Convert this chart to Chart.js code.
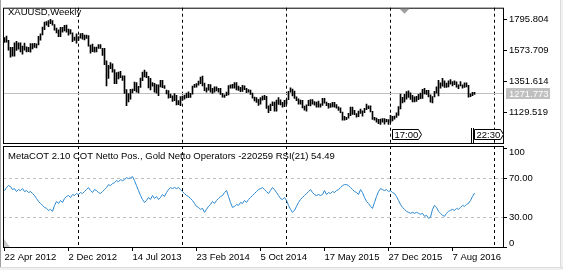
<!DOCTYPE html>
<html>
<head>
<meta charset="utf-8">
<script src="https://cdn.jsdelivr.net/npm/chart.js@4.4.0/dist/chart.umd.min.js"></script>
<style>
  html, body { margin: 0; padding: 0; background: #fff; }
  #wrap { position: relative; width: 563px; height: 270px; overflow: hidden; background: #fff; }
  #wrap canvas { position: absolute; left: 0; top: 0; }
  .edge { position: absolute; background: #f0f0f0; }
</style>
</head>
<body>
<div id="wrap">
  <canvas id="price" width="563" height="270"></canvas>
  <canvas id="cot" width="563" height="270"></canvas>
  <div class="edge" style="left:0;top:0;width:1px;height:270px;background:#a0a0a0"></div>
  <div class="edge" style="left:560px;top:0;width:3px;height:270px;border-left:1px solid #dcdcdc"></div>
  <div class="edge" style="left:0;top:267px;width:563px;height:3px;border-top:1px solid #dcdcdc"></div>
</div>
<script>
// XAUUSD weekly bars, one per week from 22 Apr 2012
const highs = [
  1666, 1676, 1647, 1597, 1597, 1628, 1640, 1628, 1628, 1605, 1627, 1600, 1596, 1623, 1623, 1625, 1622, 1675, 1692, 1741,
  1777, 1780, 1787, 1796, 1788, 1758, 1733, 1722, 1739, 1739, 1754, 1755, 1726, 1723, 1700, 1670, 1693,
  1673, 1694, 1696, 1683, 1684, 1680, 1612, 1619, 1599, 1598, 1616, 1617, 1590, 1590, 1501, 1469, 1487, 1479, 1438, 1417,
  1420, 1425, 1394, 1393, 1295, 1267, 1297, 1299, 1348, 1346, 1318, 1378, 1420, 1434, 1420, 1390, 1375, 1345, 1339, 1331,
  1330, 1362, 1361, 1323, 1292, 1289, 1264, 1251, 1267, 1255, 1217, 1246,
  1249, 1256, 1270, 1280, 1268, 1320, 1332, 1338, 1355, 1385, 1392, 1341, 1307, 1332, 1331, 1305, 1315, 1315, 1305, 1304,
  1268, 1258, 1277, 1323, 1329, 1332, 1346, 1345, 1321, 1312, 1325, 1322, 1304, 1296, 1291, 1270, 1241, 1238, 1226, 1238,
  1249, 1255, 1247, 1180, 1192, 1208, 1207, 1221, 1239, 1223, 1204, 1219,
  1224, 1282, 1307, 1298, 1285, 1243, 1230, 1220, 1219, 1177, 1187, 1219, 1224, 1224, 1209, 1207, 1214, 1194, 1232, 1232,
  1207, 1197, 1195, 1205, 1205, 1189, 1172, 1166, 1134, 1105, 1098, 1126, 1170, 1170, 1147, 1124, 1142, 1157, 1143, 1161,
  1191, 1180, 1179, 1141, 1097, 1092, 1084, 1085, 1088, 1088, 1084, 1082,
  1112, 1104, 1107, 1129, 1174, 1263, 1240, 1261, 1281, 1287, 1272, 1255, 1244, 1248, 1262, 1271, 1297, 1305, 1290, 1290,
  1258, 1245, 1283, 1315, 1362, 1343, 1375, 1358, 1341, 1357, 1367, 1352, 1358, 1350, 1330, 1352, 1330, 1344, 1343, 1326,
  1265, 1275, 1275
]
const lows = [
  1631, 1633, 1577, 1527, 1534, 1533, 1575, 1583, 1563, 1547, 1576, 1564, 1565, 1562, 1585, 1595, 1593, 1614, 1648, 1685,
  1722, 1754, 1744, 1766, 1754, 1718, 1700, 1672, 1672, 1705, 1714, 1704, 1684, 1693, 1636, 1645, 1627,
  1645, 1661, 1655, 1650, 1660, 1605, 1554, 1565, 1562, 1564, 1589, 1589, 1539, 1473, 1321, 1375, 1444, 1419, 1338, 1337,
  1372, 1381, 1360, 1268, 1180, 1208, 1227, 1272, 1287, 1277, 1271, 1310, 1359, 1385, 1380, 1307, 1292, 1320, 1277, 1270,
  1251, 1315, 1309, 1303, 1265, 1234, 1238, 1211, 1216, 1185, 1187, 1181,
  1219, 1226, 1235, 1238, 1240, 1263, 1310, 1312, 1327, 1337, 1321, 1287, 1277, 1291, 1277, 1268, 1277, 1286, 1277, 1260,
  1241, 1240, 1251, 1258, 1305, 1306, 1306, 1292, 1290, 1280, 1282, 1294, 1273, 1276, 1261, 1234, 1214, 1204, 1183, 1191,
  1219, 1223, 1161, 1131, 1145, 1180, 1141, 1142, 1190, 1185, 1170, 1173,
  1191, 1223, 1276, 1250, 1232, 1216, 1191, 1192, 1164, 1148, 1142, 1180, 1178, 1192, 1184, 1170, 1170, 1170, 1182, 1198,
  1180, 1162, 1168, 1172, 1169, 1162, 1146, 1131, 1077, 1077, 1080, 1092, 1109, 1118, 1116, 1098, 1102, 1126, 1105, 1131,
  1152, 1159, 1136, 1083, 1077, 1062, 1052, 1046, 1062, 1049, 1064, 1047,
  1062, 1071, 1084, 1096, 1111, 1158, 1200, 1208, 1226, 1240, 1225, 1208, 1208, 1211, 1224, 1230, 1232, 1265, 1260, 1243,
  1205, 1200, 1243, 1269, 1250, 1305, 1320, 1310, 1310, 1314, 1334, 1322, 1330, 1313, 1302, 1321, 1306, 1310, 1315, 1241,
  1245, 1251, 1260
]
// MetaCOT netto operators RSI(21), same weeks
const cotRsi = [
  57, 60, 62, 61, 58, 59, 56, 58, 57, 59, 56, 57, 55, 56, 54,
  52, 49, 46, 44, 42, 40, 39, 37, 38, 36,
  42, 46, 44, 47, 45, 49,
  51, 52, 50, 53, 52, 54, 53, 55,
  54, 56, 58, 60, 57, 55, 58, 57, 55, 54,
  56, 58, 60, 63, 62, 64,
  65, 67, 66, 68, 67, 68, 70, 69, 70, 71,
  67, 62, 57, 52, 48, 45, 47,
  50, 48, 52, 49, 51, 48, 50, 53, 51,
  55, 58, 60, 59, 60, 59, 60, 58,
  56, 54, 52, 51, 49, 47,
  44, 41, 40, 38, 39, 35,
  38, 41, 43, 46, 44, 47, 49, 51, 52, 55, 57,
  51, 45, 40,
  41, 43, 42, 45, 44, 47, 45, 48, 50, 52,
  54, 56, 58, 59, 60,
  58, 56, 54, 57, 60, 58, 55, 52,
  49, 48, 50, 47,
  42, 38, 35, 37,
  41, 45, 48, 50, 52, 54, 56, 58,
  55, 53, 52, 53, 52, 53,
  57,
  53, 55, 54, 56, 55, 57, 58, 60, 62, 63,
  63, 62, 60, 58, 56, 55, 53,
  58,
  55, 50, 46, 44, 41, 39,
  45, 51, 56, 59,
  58, 57, 58, 56, 57, 55, 54,
  51, 47, 43, 40, 38, 36,
  35, 34, 35, 34, 35, 34, 33, 34,
  31, 32, 29, 30,
  38, 42, 40,
  36, 34, 32, 31,
  34, 36, 37, 38, 37, 39, 38, 40,
  42, 41, 43, 44,
  47, 51, 54.49
]
const dateLabels = ['22 Apr 2012', '2 Dec 2012', '14 Jul 2013', '23 Feb 2014', '5 Oct 2014', '17 May 2015', '27 Dec 2015', '7 Aug 2016']
const dateIdx = [0, 32, 64, 96, 128, 160, 192, 224]
const yearIdx = [37, 89, 141, 193, 245]
const priceTicks = [1129.519, 1351.614, 1573.709, 1795.804]
const bidPrice = 1271.773
const rsiTicks = [0, 30, 70, 100]
const rsiLabels = ['0', '30.00', '70.00', '100']
const rsiLevels = [30, 70]

const xMin = -0.75
const xMax = 249.25
const fontName = "'Liberation Sans', Arial, sans-serif"
const fontSize = 9.5

Chart.defaults.font.family = fontName
Chart.defaults.font.size = fontSize
Chart.defaults.color = '#000'

function separatorAxis(pos) {
    return {
        type: 'linear', position: pos, min: xMin, max: xMax, offset: false,
        afterBuildTicks: s => { s.ticks = yearIdx.map(v => ({ value: v })) },
        afterFit: s => { s.height = 0 },
        ticks: { display: false },
        grid: { color: '#000', lineWidth: 1, drawTicks: false, offset: false },
        border: { display: false, dash: [3, 3] }
    }
}

function drawFlag(ctx, left, right, top, bottom, text) {
    const mid = (top + bottom) / 2
    ctx.beginPath()
    ctx.moveTo(left, top)
    ctx.lineTo(right - 3, top)
    ctx.lineTo(right, mid)
    ctx.lineTo(right - 3, bottom)
    ctx.lineTo(left, bottom)
    ctx.closePath()
    ctx.fillStyle = '#fff'
    ctx.fill()
    ctx.strokeStyle = '#000'
    ctx.stroke()
    ctx.fillStyle = '#000'
    ctx.textBaseline = 'middle'
    ctx.fillText(text, left + 2, mid + 0.5)
}

const pricePanel = {
    id: 'pricePanel',
    beforeDatasetsDraw(chart) {
        const { ctx, chartArea: a, scales: { y } } = chart
        const by = Math.round(y.getPixelForValue(bidPrice)) + 0.5
        ctx.save()
        ctx.strokeStyle = '#c0c0c0'
        ctx.lineWidth = 1
        ctx.beginPath()
        ctx.moveTo(a.left, by)
        ctx.lineTo(a.right, by)
        ctx.stroke()
        ctx.restore()
    },
    afterDraw(chart) {
        const { ctx, chartArea: a, scales: { x, y } } = chart
        ctx.save()
        ctx.lineWidth = 1
        ctx.strokeStyle = '#000'
        ctx.strokeRect(a.left + 0.5, a.top + 0.5, a.right - a.left, a.bottom - a.top)

        ctx.font = fontSize + 'px ' + fontName
        ctx.fillStyle = '#000'
        ctx.textBaseline = 'middle'
        ctx.fillText('XAUUSD,Weekly', 8, 12)

        // bid label
        const by = Math.round(y.getPixelForValue(bidPrice)) + 0.5
        ctx.fillStyle = '#c0c0c0'
        ctx.fillRect(a.right + 3, by - 5.5, 44, 11)
        ctx.fillStyle = '#fff'
        ctx.fillText(bidPrice.toFixed(3), a.right + 6, by + 0.5)

        // chart shift marker
        const sx = x.getPixelForValue(200)
        ctx.fillStyle = '#a0a0a0'
        ctx.beginPath()
        ctx.moveTo(sx - 5, a.top + 1)
        ctx.lineTo(sx + 5, a.top + 1)
        ctx.lineTo(sx, a.top + 6)
        ctx.closePath()
        ctx.fill()

        // vertical line labels
        const f1 = x.getPixelForValue(193) + 2
        drawFlag(ctx, f1, f1 + 29, a.bottom - 13.5, a.bottom - 3.5, '17:00')
        const f2 = x.getPixelForValue(233.5)
        ctx.strokeStyle = '#000'
        ctx.beginPath()
        ctx.moveTo(f2, a.bottom - 15)
        ctx.lineTo(f2, a.bottom)
        ctx.moveTo(f2 + 2, a.bottom - 15)
        ctx.lineTo(f2 + 2, a.bottom)
        ctx.stroke()
        drawFlag(ctx, f2 + 3, a.right + 0.5, a.bottom - 13.5, a.bottom - 3.5, '22:30')
        ctx.restore()
    }
}

const cotPanel = {
    id: 'cotPanel',
    beforeDatasetsDraw(chart) {
        const { ctx, chartArea: a, scales: { y } } = chart
        ctx.save()
        ctx.strokeStyle = '#c0c0c0'
        ctx.lineWidth = 1
        ctx.setLineDash([3, 3])
        rsiLevels.forEach(v => {
            const py = Math.round(y.getPixelForValue(v)) + 0.5
            ctx.beginPath()
            ctx.moveTo(a.left, py)
            ctx.lineTo(a.right, py)
            ctx.stroke()
        })
        ctx.restore()
    },
    afterDraw(chart) {
        const { ctx, chartArea: a, scales: { y } } = chart
        ctx.save()
        ctx.lineWidth = 1
        ctx.strokeStyle = '#000'
        ctx.strokeRect(a.left + 0.5, a.top + 0.5, a.right - a.left, a.bottom - a.top)

        ctx.font = fontSize + 'px ' + fontName
        ctx.fillStyle = '#000'
        ctx.textBaseline = 'middle'
        ctx.fillText('MetaCOT 2.10 COT Netto Pos., Gold Netto Operators -220259 RSI(21) ' + cotRsi[cotRsi.length - 1].toFixed(2), 8, 156)

        rsiTicks.forEach((v, i) => {
            const py = Math.round(y.getPixelForValue(v)) + 0.5
            ctx.beginPath()
            ctx.moveTo(a.right, py)
            ctx.lineTo(a.right + 4, py)
            ctx.stroke()
            let ty = py
            if (v === 100) ty = py + 4
            if (v === 0) ty = py - 4
            ctx.fillText(rsiLabels[i], a.right + 6, ty)
        })

        ctx.fillStyle = '#c8c8c8'
        ctx.beginPath()
        ctx.moveTo(a.left + 1, a.bottom - 8)
        ctx.lineTo(a.left + 1, a.bottom)
        ctx.lineTo(a.left + 7, a.bottom)
        ctx.closePath()
        ctx.fill()
        ctx.restore()
    }
}

const priceChart = new Chart(document.getElementById('price'), {
    type: 'bar',
    data: {
        datasets: [{
            data: highs.map((h, i) => ({ x: i, y: [lows[i], h] })),
            backgroundColor: '#000',
            borderWidth: 0,
            barThickness: 1
        }]
    },
    options: {
        responsive: false,
        animation: false,
        layout: { padding: { left: 3, top: 4, right: 0, bottom: 127 } },
        plugins: { legend: { display: false }, tooltip: { enabled: false } },
        scales: {
            x: separatorAxis('bottom'),
            y: {
                position: 'right', min: 914.36, max: 1879.09,
                afterBuildTicks: s => { s.ticks = priceTicks.map(v => ({ value: v })) },
                afterFit: s => { s.width = 60 },
                ticks: { autoSkip: false, padding: 2, callback: v => v.toFixed(3) },
                grid: { drawOnChartArea: false, tickLength: 4, tickColor: '#000', color: '#000' },
                border: { display: false }
            }
        }
    },
    plugins: [pricePanel]
})

const cotChart = new Chart(document.getElementById('cot'), {
    type: 'line',
    data: {
        datasets: [{
            data: cotRsi.map((v, i) => ({ x: i, y: v })),
            borderColor: '#2b87cf',
            borderWidth: 1,
            pointRadius: 0,
            tension: 0
        }]
    },
    options: {
        responsive: false,
        animation: false,
        layout: { padding: { left: 3, top: 146, right: 0, bottom: 0 } },
        plugins: { legend: { display: false }, tooltip: { enabled: false } },
        scales: {
            x: {
                type: 'linear', position: 'bottom', min: xMin, max: xMax, offset: false,
                afterBuildTicks: s => { s.ticks = dateIdx.map(v => ({ value: v })) },
                afterFit: s => { s.height = 23 },
                ticks: {
                    autoSkip: false, maxRotation: 0, minRotation: 0, align: 'start', padding: 1,
                    callback: v => dateLabels[dateIdx.indexOf(v)]
                },
                grid: { drawOnChartArea: false, tickLength: 4, tickColor: '#000', color: '#000' },
                border: { display: false }
            },
            xs: separatorAxis('top'),
            y: {
                position: 'right', min: 0, max: 102,
                afterFit: s => { s.width = 60 },
                ticks: { display: false },
                grid: { display: false },
                border: { display: false }
            }
        }
    },
    plugins: [cotPanel]
})
</script>
</body>
</html>
